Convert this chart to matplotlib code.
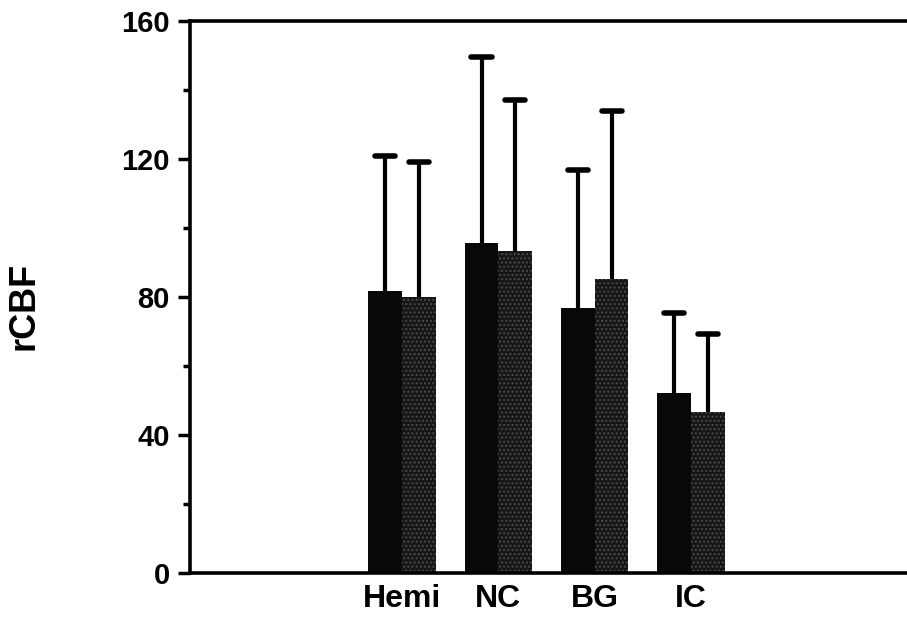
"""rCBF by region: paired bars with upper-only error bars."""

import numpy as np
import matplotlib

matplotlib.use("Agg")
import matplotlib.pyplot as plt
from matplotlib.ticker import MultipleLocator

plt.rcParams["font.family"] = ["Liberation Sans", "DejaVu Sans"]
plt.rcParams["font.weight"] = "bold"
plt.rcParams["hatch.linewidth"] = 1.0

regions = ["Hemi", "NC", "BG", "IC"]
mean_a = [81.6, 95.4, 76.7, 51.9]
upper_a = [120.7, 149.4, 116.7, 75.1]
mean_b = [79.9, 93.2, 85.1, 46.4]
upper_b = [119.0, 137.0, 133.8, 69.1]
y_ticks = [0, 40, 80, 120, 160]


def main():
    fig = plt.figure(figsize=(9.07, 6.21), dpi=100)
    ax = fig.add_axes((190 / 907, 48.5 / 621, 1 - 190 / 907, (572.5 - 20.5) / 621))

    x = np.arange(len(regions))
    w = 0.35
    cap = 0.21
    xa = x - w / 2
    xb = x + w / 2
    ax.bar(xa, mean_a, width=w, color="#080808", linewidth=0, zorder=2)
    ax.bar(xb, mean_b, width=w, color="#161616", edgecolor="#4a4a4a",
           hatch="....", linewidth=0, zorder=2)

    # upper-only error bars: stem from bar top, flat cap at mean + sd
    for xs, m, u in ((xa, mean_a, upper_a), (xb, mean_b, upper_b)):
        ax.vlines(xs, m, u, color="black", linewidth=3.0, zorder=3)
        ax.hlines(u, xs - cap / 2, xs + cap / 2, color="black", linewidth=4.0,
                  capstyle="round", zorder=3)

    ax.set_xlim(-2.20, 5.24)
    ax.set_ylim(0, 160)
    ax.set_yticks(y_ticks)
    ax.yaxis.set_minor_locator(MultipleLocator(20))
    ax.set_xticks(x)
    ax.set_xticklabels(regions, fontsize=23, fontweight="bold")
    ax.tick_params(axis="x", length=0, pad=8)
    ax.tick_params(axis="y", which="major", length=8.5, width=2.5,
                   labelsize=21, pad=6)
    ax.tick_params(axis="y", which="minor", length=5, width=2.5)
    for lab in ax.get_yticklabels():
        lab.set_fontweight("bold")

    ax.spines["right"].set_visible(False)
    for side in ("left", "bottom", "top"):
        ax.spines[side].set_linewidth(2.6)

    fig.text(24 / 907, 1 - 306 / 621, "rCBF", rotation=90, fontsize=26,
             fontweight="bold", ha="center", va="center")

    fig.savefig("out.png", dpi=100)
    plt.close(fig)


if __name__ == "__main__":
    main()
